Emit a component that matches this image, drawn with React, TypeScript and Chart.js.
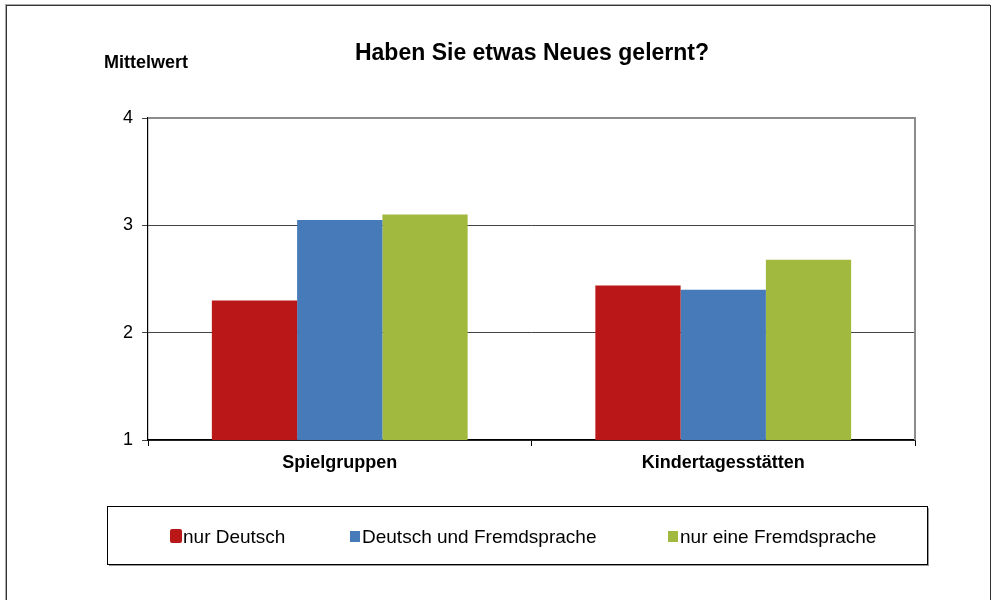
import React, { useEffect, useRef } from 'react';
import { Chart, registerables } from 'chart.js';

Chart.register(...registerables);

const TITLE = 'Haben Sie etwas Neues gelernt?';
const Y_TITLE = 'Mittelwert';
const CATEGORIES = ['Spielgruppen', 'Kindertagesstätten'];
const SERIES_LABELS = ['nur Deutsch', 'Deutsch und Fremdsprache', 'nur eine Fremdsprache'];
const NUR_DEUTSCH = [2.3, 2.44];
const DEUTSCH_UND_FREMDSPRACHE = [3.05, 2.4];
const NUR_FREMDSPRACHE = [3.1, 2.68];
const Y_MIN = 1;
const Y_MAX = 4;
const Y_STEP = 1;
const COLORS = ['#BA1818', '#467AB9', '#A2B940'];

const FONT = '"Liberation Sans", Arial, Helvetica, sans-serif';

const decorPlugin = {
  id: 'decor',
  beforeDatasetsDraw(chart: any) {
    const { ctx, chartArea: a } = chart;
    ctx.save();
    ctx.strokeStyle = '#8c8c8c';
    ctx.lineWidth = 2;
    ctx.beginPath();
    ctx.moveTo(a.left, a.top);
    ctx.lineTo(a.right, a.top);
    ctx.lineTo(a.right, a.bottom);
    ctx.stroke();
    ctx.restore();
  },
  afterDraw(chart: any) {
    const { ctx } = chart;
    ctx.save();
    ctx.fillStyle = '#000';
    ctx.textBaseline = 'alphabetic';
    ctx.textAlign = 'center';
    ctx.font = `bold 23px ${FONT}`;
    ctx.fillText(TITLE, 532, 60);
    ctx.textAlign = 'left';
    ctx.font = `bold 18px ${FONT}`;
    ctx.fillText(Y_TITLE, 104, 68);

    // legend box
    const bx = 107, by = 506, bw = 820, bh = 58;
    ctx.fillStyle = '#9a9a9a';
    ctx.fillRect(bx + 2, by + 2, bw, bh);
    ctx.fillStyle = '#fff';
    ctx.fillRect(bx, by, bw, bh);
    ctx.strokeStyle = '#000';
    ctx.lineWidth = 1;
    ctx.strokeRect(bx + 0.5, by + 0.5, bw, bh);

    const itemX = [170, 350, 668];
    ctx.font = `19px ${FONT}`;
    chart.data.datasets.forEach((ds: any, i: number) => {
      const x = itemX[i];
      ctx.fillStyle = ds.backgroundColor;
      if (i === 0) {
        ctx.beginPath();
        (ctx as any).roundRect(x, 529, 12, 14, 2);
        ctx.fill();
      } else {
        ctx.fillRect(x, 531, 10, 11);
      }
      ctx.fillStyle = '#000';
      ctx.fillText(ds.label, x + (i === 0 ? 13 : 12), 543);
    });
    ctx.restore();
  },
};

export default function App() {
  const ref = useRef<HTMLCanvasElement | null>(null);

  useEffect(() => {
    if (!ref.current) return;
    const values = [NUR_DEUTSCH, DEUTSCH_UND_FREMDSPRACHE, NUR_FREMDSPRACHE];
    const chart = new Chart(ref.current, {
      type: 'bar',
      data: {
        labels: CATEGORIES,
        datasets: SERIES_LABELS.map((label, i) => ({
          label,
          data: values[i],
          backgroundColor: COLORS[i],
          borderWidth: 0,
          categoryPercentage: 0.667,
          barPercentage: 1.0,
        })),
      },
      options: {
        animation: false,
        responsive: true,
        maintainAspectRatio: false,
        layout: { padding: { left: 0, right: 78, top: 118, bottom: 120 } },
        plugins: {
          legend: { display: false },
          title: { display: false },
          tooltip: { enabled: false },
        },
        scales: {
          x: {
            afterFit: (scale: any) => {
              scale.height = 40;
            },
            grid: {
              drawOnChartArea: false,
              drawTicks: true,
              tickLength: 6,
              color: '#000',
            },
            border: { display: true, color: '#000', width: 1.5 },
            ticks: {
              color: '#000',
              padding: 6,
              font: { family: FONT, size: 18, weight: 'bold' },
            },
          },
          y: {
            min: Y_MIN,
            max: Y_MAX,
            afterFit: (scale: any) => {
              scale.width = 148;
            },
            grid: {
              color: '#444',
              lineWidth: 1,
              tickLength: 6,
              drawTicks: true,
            },
            border: { display: true, color: '#000', width: 1.2 },
            ticks: {
              stepSize: Y_STEP,
              color: '#000',
              padding: 9,
              font: { family: FONT, size: 18 },
            },
          },
        },
      },
      plugins: [decorPlugin],
    });
    return () => chart.destroy();
  }, []);

  return (
    <div
      style={{
        position: 'absolute',
        left: 0,
        top: 0,
        width: 993,
        height: 600,
        overflow: 'hidden',
        background: '#fff',
      }}
    >
      <canvas ref={ref} />
      <div
        style={{
          position: 'absolute',
          left: 6,
          top: 5,
          width: 985,
          height: 640,
          boxSizing: 'border-box',
          border: '1px solid #333',
          boxShadow: '-1px -1px 0 #aaa',
          pointerEvents: 'none',
        }}
      />
    </div>
  );
}
